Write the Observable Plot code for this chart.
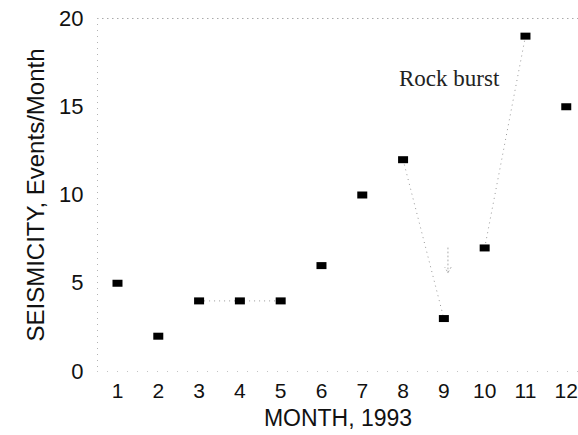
<!DOCTYPE html>
<html>
<head>
<meta charset="utf-8">
<script src="https://cdn.jsdelivr.net/npm/d3@7"></script>
<script src="https://cdn.jsdelivr.net/npm/@observablehq/plot@0.6"></script>
<style>
  html, body { margin: 0; padding: 0; background: #fff; }
  #chart svg { display: block; }
</style>
</head>
<body>
<div id="chart"></div>
<script>
const months = [1, 2, 3, 4, 5, 6, 7, 8, 9, 10, 11, 12];
const events = [5, 2, 4, 4, 4, 6, 10, 12, 3, 7, 19, 15];
const yTicks = [0, 5, 10, 15, 20];
const connectors = [[3, 5], [8, 9], [10, 11]];
const annotationText = ["Rock burst"];
const annotationMonth = [7.9];
const annotationValue = [16.6];
const arrowMonth = [9.1];
const arrowFrom = [7.0];
const arrowTo = [5.6];

const data = months.map((m, i) => ({month: m, value: events[i]}));
const byMonth = new Map(data.map(d => [d.month, d.value]));
const links = connectors.map(([a, b]) => ({x1: a, y1: byMonth.get(a), x2: b, y2: byMonth.get(b)}));
const notes = annotationText.map((t, i) => ({label: t, month: annotationMonth[i], value: annotationValue[i]}));
const arrows = arrowMonth.map((m, i) => ({month: m, y1: arrowFrom[i], y2: arrowTo[i]}));

const rectSymbol = {
  draw(context, size) {
    context.rect(-5, -3.5, 10, 7);
  }
};

const sans = "Arial, 'Liberation Sans', sans-serif";
const serif = "'Times New Roman', 'Liberation Serif', serif";

const chart = Plot.plot({
  width: 578,
  height: 435,
  marginLeft: 97,
  marginRight: 0,
  marginTop: 18,
  marginBottom: 64,
  style: {fontFamily: sans, background: "#fff", color: "#111"},
  x: {domain: [0.51, 12.3]},
  y: {domain: [0, 20]},
  marks: [
    Plot.ruleY([20], {stroke: "#aaa", strokeWidth: 1, strokeDasharray: "1.5 3.5"}),
    Plot.ruleY([0], {stroke: "#c4c4c4", strokeWidth: 1, strokeDasharray: "1 9"}),
    Plot.ruleX([0.51], {stroke: "#b4b4b4", strokeWidth: 1, strokeDasharray: "1 5"}),
    Plot.axisX({
      ticks: months, tickSize: 0, tickPadding: 12, fontSize: 21, label: null,
      tickFormat: d => String(d)
    }),
    Plot.axisY({
      ticks: yTicks, tickSize: 0, tickPadding: 14, fontSize: 22, label: null
    }),
    Plot.text(["MONTH, 1993"], {frameAnchor: "bottom", dy: 47, lineAnchor: "middle", textAnchor: "middle", fontSize: 23, fill: "#111"}),
    Plot.text(["SEISMICITY, Events/Month"], {frameAnchor: "left", dx: -61, rotate: -90, textAnchor: "middle", lineAnchor: "middle", fontSize: 24, fill: "#111"}),
    Plot.link(links, {x1: "x1", y1: "y1", x2: "x2", y2: "y2", stroke: "#999", strokeWidth: 1, strokeDasharray: "1 4"}),
    Plot.arrow(arrows, {x: "month", y1: "y1", y2: "y2", stroke: "#aaa", strokeWidth: 1, headLength: 9, strokeDasharray: "1 3"}),
    Plot.dot(data, {x: "month", y: "value", symbol: rectSymbol, fill: "#000", stroke: "none", r: 5}),
    Plot.text(notes, {x: "month", y: "value", text: "label", textAnchor: "start", fontFamily: serif, fontSize: 23, fill: "#222"})
  ]
});
document.getElementById("chart").appendChild(chart);
</script>
</body>
</html>
